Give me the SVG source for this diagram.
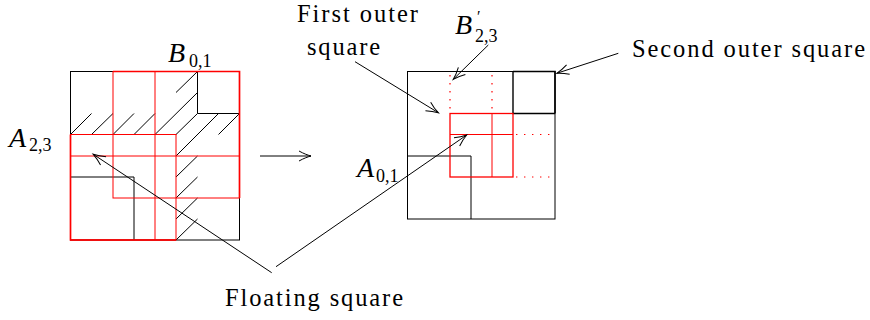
<svg xmlns="http://www.w3.org/2000/svg" width="870" height="320" viewBox="0 0 870 320">
<style>
.k{fill:none;stroke:#000;stroke-width:1}
.r{fill:none;stroke:#ff0000;stroke-width:1}
.rt{fill:none;stroke:#ff0000;stroke-width:1.7}
.rd{fill:none;stroke:#ff0000;stroke-width:1.2;stroke-dasharray:1.4 6.6}
.ar{fill:none;stroke:#000;stroke-width:1;marker-end:url(#to)}
</style>
<defs>
<marker id="to" markerUnits="userSpaceOnUse" orient="auto" refX="0" refY="0" markerWidth="30" markerHeight="30" viewBox="-15 -15 30 30" overflow="visible">
<path d="M-12,-5 C-7,-2.2 -3,-0.8 0,0 C-3,0.8 -7,2.2 -12,5" fill="none" stroke="#000" stroke-width="1"/>
</marker>
</defs>

<g id="left-figure">
<g id="left-black">
<rect class="k" x="70.5" y="71.5" width="169" height="168.5"/>
<polyline class="k" points="70.5,177 134,177 134,240"/>
<polyline class="k" points="197.5,71.5 197.5,113.5 239.5,113.5"/>
</g>
<g id="hatching">
<line class="k" x1="70.5" y1="134.5" x2="91.5" y2="113.5"/>
<line class="k" x1="91.5" y1="134.5" x2="113" y2="113.5"/>
<line class="k" x1="113" y1="134.5" x2="134" y2="113.5"/>
<line class="k" x1="134" y1="134.5" x2="155" y2="113.5"/>
<line class="k" x1="155" y1="134.5" x2="197.5" y2="92.5"/>
<line class="k" x1="176" y1="92.5" x2="197.5" y2="71.5"/>
<line class="k" x1="176" y1="134.5" x2="197.5" y2="113.5"/>
<line class="k" x1="176" y1="156" x2="218.5" y2="113.5"/>
<line class="k" x1="218.5" y1="134.5" x2="239.5" y2="113.5"/>
<line class="k" x1="176" y1="177" x2="197.5" y2="156"/>
<line class="k" x1="176" y1="198" x2="197.5" y2="177"/>
<line class="k" x1="176" y1="219" x2="197.5" y2="198"/>
<line class="k" x1="176" y1="240" x2="197.5" y2="219"/>
</g>
<g id="B01">
<rect class="r" x="113" y="71.5" width="126.5" height="126.5"/>
<polyline class="rt" points="113,71.5 239.5,71.5 239.5,198"/>
</g>
<g id="A23">
<rect class="r" x="70.5" y="134.5" width="105.5" height="105.5"/>
<polyline class="rt" points="70.5,134.5 70.5,240 176,240"/>
</g>
<g id="left-cross">
<line class="r" x1="155" y1="71.5" x2="155" y2="240"/>
<line class="r" x1="70.5" y1="156" x2="239.5" y2="156"/>
</g>
</g>

<g id="right-figure">
<g id="second-outer-square">
<rect class="k" x="407.5" y="71.5" width="147.5" height="147.5"/>
<polyline class="k" style="stroke-width:1.4" points="513,71.5 513,113.5 555,113.5"/>
<polyline class="k" style="stroke-width:1.6" points="513,71.5 555,71.5 555,113.5"/>
</g>
<g id="A01">
<polyline class="k" points="407.5,156 471,156 471,219"/>
</g>
<g id="floating-square">
<rect class="r" style="stroke-width:1.3" x="450" y="113.5" width="63" height="63.5"/>
<line class="r" x1="450" y1="134.5" x2="513" y2="134.5"/>
<line class="r" x1="492" y1="113.5" x2="492" y2="177"/>
</g>
<g id="dotted">
<line class="rd" x1="450" y1="75" x2="450" y2="113.5"/>
<line class="rd" x1="492" y1="75" x2="492" y2="113.5"/>
<line class="rd" x1="516" y1="134.5" x2="555" y2="134.5"/>
<line class="rd" x1="516" y1="177" x2="555" y2="177"/>
</g>
</g>

<g id="connectors">
<line class="ar" x1="271.7" y1="272.7" x2="93.3" y2="154.3"/>
<line class="ar" x1="276" y1="266.7" x2="466.7" y2="135"/>
<line class="ar" x1="260" y1="156" x2="311" y2="156"/>
<line class="ar" x1="488.3" y1="45" x2="453.3" y2="79.3"/>
<line class="ar" x1="355" y1="61.7" x2="438.3" y2="112.7"/>
<line class="ar" x1="618.3" y1="53.3" x2="556.7" y2="73.3"/>
</g>

<g id="labels">
<text font-family="Liberation Serif, serif" font-size="24.5" x="297" y="22" textLength="121" lengthAdjust="spacing">First outer</text>
<text font-family="Liberation Serif, serif" font-size="24.5" x="307" y="55" textLength="73" lengthAdjust="spacing">square</text>
<text font-family="Liberation Serif, serif" font-size="24.5" x="632" y="56.5" textLength="233" lengthAdjust="spacing">Second outer square</text>
<text font-family="Liberation Serif, serif" font-size="24.5" x="225" y="306" textLength="178" lengthAdjust="spacing">Floating square</text>
<text font-family="Liberation Serif, serif" font-size="28" font-style="italic" x="455" y="33.5">B<tspan font-size="16" font-style="normal" x="477" y="22">′</tspan><tspan font-size="18" font-style="normal" x="475" y="42">2,3</tspan></text>
<text font-family="Liberation Serif, serif" font-size="28" font-style="italic" x="168" y="61.5">B<tspan font-size="18" font-style="normal" x="189" y="66.5">0,1</tspan></text>
<text font-family="Liberation Serif, serif" font-size="28" font-style="italic" x="9" y="146.5">A<tspan font-size="18" font-style="normal" x="29" y="151">2,3</tspan></text>
<text font-family="Liberation Serif, serif" font-size="28" font-style="italic" x="357" y="177">A<tspan font-size="18" font-style="normal" x="376" y="181.5">0,1</tspan></text>
</g>
</svg>
